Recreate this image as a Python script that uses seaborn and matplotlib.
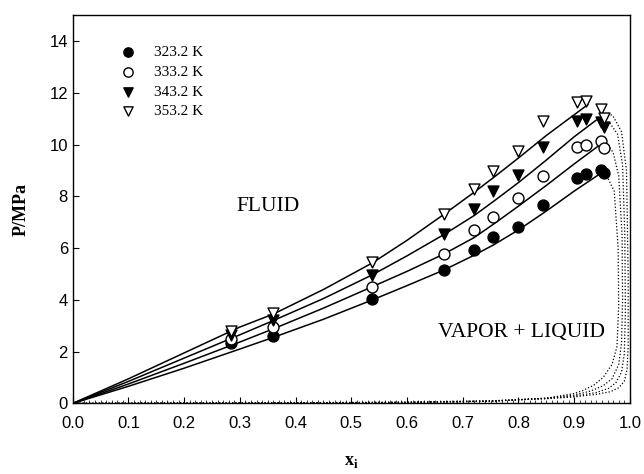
#!/usr/bin/env python3
import numpy as np
import pandas as pd
import seaborn as sns
import matplotlib.pyplot as plt
from matplotlib.ticker import MultipleLocator

# measured bubble points
temps = ['323.2 K', '333.2 K', '343.2 K', '353.2 K']
x_exp = [0.284, 0.360, 0.538, 0.666, 0.721, 0.755, 0.800, 0.845, 0.906, 0.921, 0.949, 0.954]
p_323 = [2.35, 2.60, 4.02, 5.17, 5.91, 6.42, 6.80, 7.65, 8.70, 8.85, 9.03, 8.91]
p_333 = [2.49, 2.94, 4.51, 5.78, 6.69, 7.22, 7.92, 8.80, 9.91, 10.00, 10.14, 9.86]
p_343 = [2.65, 3.24, 4.97, 6.55, 7.52, 8.20, 8.82, 9.91, 10.93, 11.00, 10.87, 10.68]
p_353 = [2.78, 3.49, 5.47, 7.31, 8.29, 8.98, 9.76, 10.93, 11.64, 11.70, 11.36, 11.04]

# calculated bubble curves (solid)
xb = [0.0, 0.1, 0.2, 0.3, 0.36, 0.45, 0.538, 0.6, 0.666, 0.72, 0.755, 0.8, 0.85, 0.9]
pb_323 = [0.0, 0.66, 1.36, 2.1, 2.55, 3.25, 4.0, 4.55, 5.15, 5.72, 6.12, 6.7, 7.43, 8.2]
pb_333 = [0.0, 0.75, 1.55, 2.37, 2.88, 3.68, 4.51, 5.1, 5.77, 6.4, 6.92, 7.62, 8.42, 9.25]
pb_343 = [0.0, 0.85, 1.75, 2.65, 3.2, 4.05, 4.97, 5.7, 6.52, 7.25, 7.8, 8.53, 9.4, 10.3]
pb_353 = [0.0, 0.95, 1.95, 2.95, 3.45, 4.4, 5.43, 6.3, 7.3, 8.15, 8.72, 9.48, 10.35, 11.15]
xb_end = [0.945, 0.945, 0.94, 0.925]
pb_end = [8.85, 9.97, 10.95, 11.55]

# calculated dew curves (dotted)
xd_323 = [0.0, 0.3, 0.6, 0.75, 0.85, 0.9, 0.916, 0.935, 0.952, 0.968, 0.977, 0.98, 0.979, 0.972, 0.955]
pd_323 = [0.0, 0.01, 0.03, 0.08, 0.2, 0.38, 0.5, 0.7, 1.0, 1.5, 2.2, 3.8, 6.0, 8.2, 8.95]
xd_333 = [0.0, 0.3, 0.6, 0.75, 0.85, 0.9, 0.93, 0.952, 0.968, 0.98, 0.985, 0.987, 0.986, 0.98, 0.97, 0.958]
pd_333 = [0.0, 0.01, 0.035, 0.085, 0.2, 0.32, 0.48, 0.68, 0.95, 1.5, 2.3, 4.0, 6.5, 8.8, 9.7, 10.05]
xd_343 = [0.0, 0.3, 0.6, 0.75, 0.85, 0.9, 0.94, 0.962, 0.975, 0.985, 0.99, 0.992, 0.991, 0.987, 0.978, 0.962]
pd_343 = [0.0, 0.01, 0.04, 0.09, 0.19, 0.28, 0.42, 0.58, 0.8, 1.2, 1.9, 3.5, 6.5, 9.2, 10.4, 10.9]
xd_353 = [0.0, 0.3, 0.6, 0.75, 0.85, 0.9, 0.94, 0.965, 0.98, 0.99, 0.995, 0.997, 0.997, 0.994, 0.985, 0.97, 0.958]
pd_353 = [0.0, 0.01, 0.05, 0.1, 0.18, 0.25, 0.35, 0.45, 0.6, 0.85, 1.3, 2.2, 5.0, 9.0, 10.5, 11.1, 11.25]

sns.set_theme(style='ticks')
plt.rcParams['font.family'] = ['Liberation Sans', 'DejaVu Sans']
plt.rcParams['text.color'] = 'black'
plt.rcParams['axes.labelcolor'] = 'black'

fig = plt.figure(figsize=(6.44, 4.74), dpi=100)
ax = fig.add_axes([0.113, 0.149, 0.865, 0.819])

p_exp = [p_323, p_333, p_343, p_353]
p_bub = [pb_323, pb_333, pb_343, pb_353]
dews = [(xd_323, pd_323), (xd_333, pd_333), (xd_343, pd_343), (xd_353, pd_353)]
markers = ['o', 'o', 'v', 'v']
faces = ['black', 'white', 'black', 'white']

for i, t in enumerate(temps):
    bub = pd.DataFrame({'x': xb + [xb_end[i]], 'P': p_bub[i] + [pb_end[i]]})
    sns.lineplot(data=bub, x='x', y='P', color='black', lw=1.1, sort=False,
                 estimator=None, ax=ax)
    dew = pd.DataFrame({'x': dews[i][0], 'P': dews[i][1]})
    sns.lineplot(data=dew, x='x', y='P', color='black', lw=0.9, sort=False,
                 estimator=None, linestyle=(0, (1, 1.6)), ax=ax)

for i, t in enumerate(temps):
    sns.scatterplot(x=x_exp, y=p_exp[i], marker=markers[i], s=62,
                    facecolor=faces[i], edgecolor='black', linewidth=1.0,
                    label=t, ax=ax, zorder=3)

ax.set_xlim(0, 1.0)
ax.set_ylim(0, 15)
ax.xaxis.set_minor_locator(MultipleLocator(0.01))
ax.set_xticks(np.arange(0, 1.01, 0.1))
ax.set_xticklabels(['%.1f' % v for v in np.arange(0, 1.01, 0.1)])
ax.set_yticks(range(0, 15, 2))
ax.tick_params(axis='both', which='major', direction='in', length=4, width=0.8,
               labelsize=12, colors='black')
ax.tick_params(axis='x', which='minor', direction='in', length=2, width=0.6)
ax.tick_params(axis='x', which='major', pad=9)
for sp in ax.spines.values():
    sp.set_color('black')
    sp.set_linewidth(1.0)

ax.set_xlabel('x$_\\mathregular{i}$', family='Liberation Serif', fontweight='bold',
              fontsize=13, labelpad=16)
ax.set_ylabel('P/MPa', family='Liberation Serif', fontweight='bold',
              fontsize=13, labelpad=14)

ax.text(0.35, 7.6, 'FLUID', family='Liberation Serif', fontsize=15.5,
        ha='center', va='center')
ax.text(0.805, 2.75, 'VAPOR + LIQUID', family='Liberation Serif', fontsize=15.5,
        ha='center', va='center')

leg = ax.legend(loc='upper left', bbox_to_anchor=(0.047, 0.958), frameon=False,
                prop={'family': 'Liberation Serif', 'size': 11}, labelcolor='black',
                handletextpad=0.7, labelspacing=0.4, markerscale=0.85)

fig.savefig('out.png', dpi=100)
plt.close(fig)
